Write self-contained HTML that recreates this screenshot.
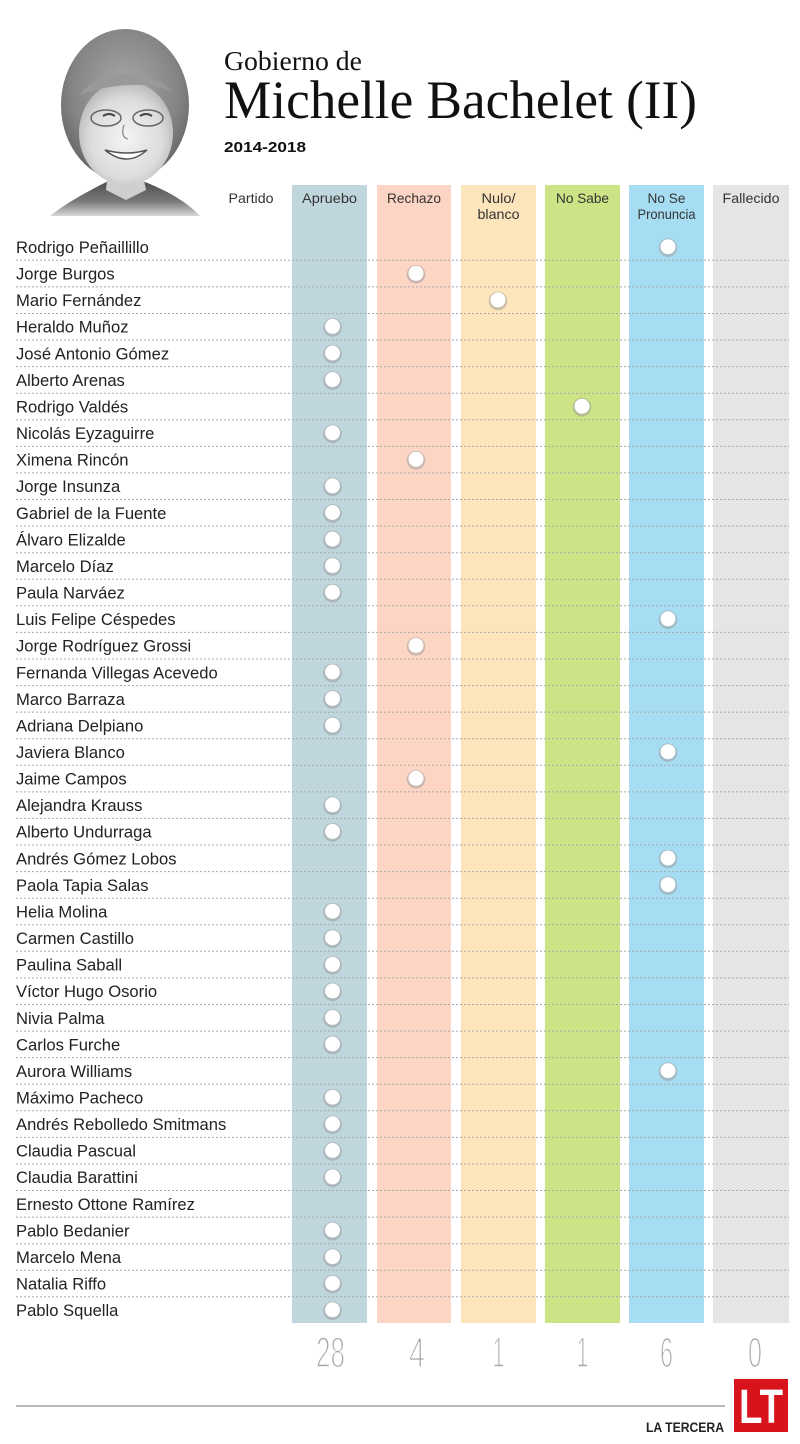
<!DOCTYPE html>
<html><head><meta charset="utf-8"><style>
html,body{margin:0;padding:0;background:#fff;}
svg{display:block;}
</style></head><body>
<svg width="800" height="1444" viewBox="0 0 800 1444" xmlns="http://www.w3.org/2000/svg">
<defs>
<radialGradient id="hair" cx="50%" cy="40%" r="60%">
<stop offset="0" stop-color="#a8a8a8"/><stop offset="0.7" stop-color="#848484"/><stop offset="1" stop-color="#666"/>
</radialGradient>
<radialGradient id="face" cx="50%" cy="55%" r="55%">
<stop offset="0" stop-color="#f4f4f4"/><stop offset="0.7" stop-color="#dcdcdc"/><stop offset="1" stop-color="#b8b8b8"/>
</radialGradient>
<linearGradient id="shoulder" x1="0" y1="0" x2="0" y2="1">
<stop offset="0" stop-color="#4a4a4a"/><stop offset="0.6" stop-color="#7a7a7a"/><stop offset="1" stop-color="#d8d8d8"/>
</linearGradient>
</defs>

<!-- portrait -->
<path d="M50,216 C70,200 95,188 110,180 L145,182 C165,190 185,200 200,216 Z" fill="url(#shoulder)"/>
<path d="M108,170 L142,170 L146,190 L126,200 L106,190 Z" fill="#cfcfcf"/>
<ellipse cx="125" cy="105" rx="64" ry="76" fill="url(#hair)"/>
<ellipse cx="126" cy="133" rx="47" ry="52" fill="url(#face)"/>
<path d="M80,95 C95,70 150,66 172,92 C160,84 120,80 80,95 Z" fill="#999"/>
<ellipse cx="106" cy="118" rx="15" ry="8" fill="none" stroke="#666" stroke-width="1.5"/>
<ellipse cx="148" cy="118" rx="15" ry="8" fill="none" stroke="#666" stroke-width="1.5"/>
<path d="M103,116 q6,-4 12,0" stroke="#444" stroke-width="2" fill="none"/>
<path d="M140,116 q6,-4 12,0" stroke="#444" stroke-width="2" fill="none"/>
<path d="M105,150 q22,18 42,0 q-20,6 -42,0 Z" fill="#fff" stroke="#555" stroke-width="1.5"/>
<path d="M124,125 q-4,12 4,14" stroke="#999" stroke-width="1.5" fill="none"/>

<!-- title -->
<text x="224" y="70" font-family="Liberation Serif, serif" font-size="27" fill="#111" textLength="138" lengthAdjust="spacingAndGlyphs">Gobierno de</text>
<text x="224" y="118" font-family="Liberation Serif, serif" font-size="54" fill="#111" textLength="473" lengthAdjust="spacingAndGlyphs">Michelle Bachelet (II)</text>
<text x="224" y="152" font-family="Liberation Sans, sans-serif" font-size="14.5" font-weight="bold" fill="#111" textLength="82" lengthAdjust="spacingAndGlyphs">2014-2018</text>

<!-- columns -->
<rect x="292" y="185" width="75" height="1138" fill="#c0d6dd"/>
<rect x="377" y="185" width="74" height="1138" fill="#fdd5c5"/>
<rect x="461" y="185" width="75" height="1138" fill="#fde5bb"/>
<rect x="545" y="185" width="75" height="1138" fill="#cce386"/>
<rect x="629" y="185" width="75" height="1138" fill="#a7ddf3"/>
<rect x="713" y="185" width="76" height="1138" fill="#e5e5e5"/>

<!-- headers -->
<g font-family="Liberation Sans, sans-serif" font-size="14" fill="#333" text-anchor="middle">
<text x="251" y="203" textLength="45" lengthAdjust="spacingAndGlyphs">Partido</text>
<text x="329.5" y="203" textLength="55" lengthAdjust="spacingAndGlyphs">Apruebo</text>
<text x="414" y="203" textLength="54" lengthAdjust="spacingAndGlyphs">Rechazo</text>
<text x="498.5" y="203" textLength="34" lengthAdjust="spacingAndGlyphs">Nulo/</text>
<text x="498.5" y="219" textLength="42" lengthAdjust="spacingAndGlyphs">blanco</text>
<text x="582.5" y="203" textLength="53" lengthAdjust="spacingAndGlyphs">No Sabe</text>
<text x="666.5" y="203" textLength="38" lengthAdjust="spacingAndGlyphs">No Se</text>
<text x="666.5" y="219" textLength="58" lengthAdjust="spacingAndGlyphs">Pronuncia</text>
<text x="751" y="203" textLength="57" lengthAdjust="spacingAndGlyphs">Fallecido</text>
</g>

<!-- dotted separators -->
<g stroke="#a8a8a8" stroke-width="1" stroke-dasharray="2,2">
<line x1="16" x2="789" y1="260.3" y2="260.3"/>
<line x1="16" x2="789" y1="286.9" y2="286.9"/>
<line x1="16" x2="789" y1="313.5" y2="313.5"/>
<line x1="16" x2="789" y1="340.0" y2="340.0"/>
<line x1="16" x2="789" y1="366.6" y2="366.6"/>
<line x1="16" x2="789" y1="393.2" y2="393.2"/>
<line x1="16" x2="789" y1="419.8" y2="419.8"/>
<line x1="16" x2="789" y1="446.4" y2="446.4"/>
<line x1="16" x2="789" y1="472.9" y2="472.9"/>
<line x1="16" x2="789" y1="499.5" y2="499.5"/>
<line x1="16" x2="789" y1="526.1" y2="526.1"/>
<line x1="16" x2="789" y1="552.7" y2="552.7"/>
<line x1="16" x2="789" y1="579.2" y2="579.2"/>
<line x1="16" x2="789" y1="605.8" y2="605.8"/>
<line x1="16" x2="789" y1="632.4" y2="632.4"/>
<line x1="16" x2="789" y1="659.0" y2="659.0"/>
<line x1="16" x2="789" y1="685.6" y2="685.6"/>
<line x1="16" x2="789" y1="712.1" y2="712.1"/>
<line x1="16" x2="789" y1="738.7" y2="738.7"/>
<line x1="16" x2="789" y1="765.3" y2="765.3"/>
<line x1="16" x2="789" y1="791.9" y2="791.9"/>
<line x1="16" x2="789" y1="818.4" y2="818.4"/>
<line x1="16" x2="789" y1="845.0" y2="845.0"/>
<line x1="16" x2="789" y1="871.6" y2="871.6"/>
<line x1="16" x2="789" y1="898.2" y2="898.2"/>
<line x1="16" x2="789" y1="924.8" y2="924.8"/>
<line x1="16" x2="789" y1="951.3" y2="951.3"/>
<line x1="16" x2="789" y1="977.9" y2="977.9"/>
<line x1="16" x2="789" y1="1004.5" y2="1004.5"/>
<line x1="16" x2="789" y1="1031.1" y2="1031.1"/>
<line x1="16" x2="789" y1="1057.6" y2="1057.6"/>
<line x1="16" x2="789" y1="1084.2" y2="1084.2"/>
<line x1="16" x2="789" y1="1110.8" y2="1110.8"/>
<line x1="16" x2="789" y1="1137.4" y2="1137.4"/>
<line x1="16" x2="789" y1="1164.0" y2="1164.0"/>
<line x1="16" x2="789" y1="1190.5" y2="1190.5"/>
<line x1="16" x2="789" y1="1217.1" y2="1217.1"/>
<line x1="16" x2="789" y1="1243.7" y2="1243.7"/>
<line x1="16" x2="789" y1="1270.3" y2="1270.3"/>
<line x1="16" x2="789" y1="1296.8" y2="1296.8"/>
</g>

<!-- names -->
<g font-family="Liberation Sans, sans-serif" font-size="16.6" fill="#222">
<text x="16" y="253.0">Rodrigo Peñaillillo</text>
<text x="16" y="279.6">Jorge Burgos</text>
<text x="16" y="306.2">Mario Fernández</text>
<text x="16" y="332.7">Heraldo Muñoz</text>
<text x="16" y="359.3">José Antonio Gómez</text>
<text x="16" y="385.9">Alberto Arenas</text>
<text x="16" y="412.5">Rodrigo Valdés</text>
<text x="16" y="439.1">Nicolás Eyzaguirre</text>
<text x="16" y="465.6">Ximena Rincón</text>
<text x="16" y="492.2">Jorge Insunza</text>
<text x="16" y="518.8">Gabriel de la Fuente</text>
<text x="16" y="545.4">Álvaro Elizalde</text>
<text x="16" y="571.9">Marcelo Díaz</text>
<text x="16" y="598.5">Paula Narváez</text>
<text x="16" y="625.1">Luis Felipe Céspedes</text>
<text x="16" y="651.7">Jorge Rodríguez Grossi</text>
<text x="16" y="678.3">Fernanda Villegas Acevedo</text>
<text x="16" y="704.8">Marco Barraza</text>
<text x="16" y="731.4">Adriana Delpiano</text>
<text x="16" y="758.0">Javiera Blanco</text>
<text x="16" y="784.6">Jaime Campos</text>
<text x="16" y="811.1">Alejandra Krauss</text>
<text x="16" y="837.7">Alberto Undurraga</text>
<text x="16" y="864.3">Andrés Gómez Lobos</text>
<text x="16" y="890.9">Paola Tapia Salas</text>
<text x="16" y="917.5">Helia Molina</text>
<text x="16" y="944.0">Carmen Castillo</text>
<text x="16" y="970.6">Paulina Saball</text>
<text x="16" y="997.2">Víctor Hugo Osorio</text>
<text x="16" y="1023.8">Nivia Palma</text>
<text x="16" y="1050.3">Carlos Furche</text>
<text x="16" y="1076.9">Aurora Williams</text>
<text x="16" y="1103.5">Máximo Pacheco</text>
<text x="16" y="1130.1">Andrés Rebolledo Smitmans</text>
<text x="16" y="1156.7">Claudia Pascual</text>
<text x="16" y="1183.2">Claudia Barattini</text>
<text x="16" y="1209.8">Ernesto Ottone Ramírez</text>
<text x="16" y="1236.4">Pablo Bedanier</text>
<text x="16" y="1263.0">Marcelo Mena</text>
<text x="16" y="1289.5">Natalia Riffo</text>
<text x="16" y="1316.1">Pablo Squella</text>
</g>

<!-- dots -->
<g fill="#9a9a9a" opacity="0.5">
<circle cx="668" cy="247.7" r="9.3"/>
<circle cx="416" cy="274.3" r="9.3"/>
<circle cx="498" cy="300.9" r="9.3"/>
<circle cx="332.5" cy="327.4" r="9.3"/>
<circle cx="332.5" cy="354.0" r="9.3"/>
<circle cx="332.5" cy="380.6" r="9.3"/>
<circle cx="582" cy="407.2" r="9.3"/>
<circle cx="332.5" cy="433.8" r="9.3"/>
<circle cx="416" cy="460.3" r="9.3"/>
<circle cx="332.5" cy="486.9" r="9.3"/>
<circle cx="332.5" cy="513.5" r="9.3"/>
<circle cx="332.5" cy="540.1" r="9.3"/>
<circle cx="332.5" cy="566.6" r="9.3"/>
<circle cx="332.5" cy="593.2" r="9.3"/>
<circle cx="668" cy="619.8" r="9.3"/>
<circle cx="416" cy="646.4" r="9.3"/>
<circle cx="332.5" cy="673.0" r="9.3"/>
<circle cx="332.5" cy="699.5" r="9.3"/>
<circle cx="332.5" cy="726.1" r="9.3"/>
<circle cx="668" cy="752.7" r="9.3"/>
<circle cx="416" cy="779.3" r="9.3"/>
<circle cx="332.5" cy="805.8" r="9.3"/>
<circle cx="332.5" cy="832.4" r="9.3"/>
<circle cx="668" cy="859.0" r="9.3"/>
<circle cx="668" cy="885.6" r="9.3"/>
<circle cx="332.5" cy="912.2" r="9.3"/>
<circle cx="332.5" cy="938.7" r="9.3"/>
<circle cx="332.5" cy="965.3" r="9.3"/>
<circle cx="332.5" cy="991.9" r="9.3"/>
<circle cx="332.5" cy="1018.5" r="9.3"/>
<circle cx="332.5" cy="1045.0" r="9.3"/>
<circle cx="668" cy="1071.6" r="9.3"/>
<circle cx="332.5" cy="1098.2" r="9.3"/>
<circle cx="332.5" cy="1124.8" r="9.3"/>
<circle cx="332.5" cy="1151.4" r="9.3"/>
<circle cx="332.5" cy="1177.9" r="9.3"/>
<circle cx="332.5" cy="1231.1" r="9.3"/>
<circle cx="332.5" cy="1257.7" r="9.3"/>
<circle cx="332.5" cy="1284.2" r="9.3"/>
<circle cx="332.5" cy="1310.8" r="9.3"/>
</g>
<g fill="#fff">
<circle cx="668" cy="246.7" r="7.5"/>
<circle cx="416" cy="273.3" r="7.5"/>
<circle cx="498" cy="299.9" r="7.5"/>
<circle cx="332.5" cy="326.4" r="7.5"/>
<circle cx="332.5" cy="353.0" r="7.5"/>
<circle cx="332.5" cy="379.6" r="7.5"/>
<circle cx="582" cy="406.2" r="7.5"/>
<circle cx="332.5" cy="432.8" r="7.5"/>
<circle cx="416" cy="459.3" r="7.5"/>
<circle cx="332.5" cy="485.9" r="7.5"/>
<circle cx="332.5" cy="512.5" r="7.5"/>
<circle cx="332.5" cy="539.1" r="7.5"/>
<circle cx="332.5" cy="565.6" r="7.5"/>
<circle cx="332.5" cy="592.2" r="7.5"/>
<circle cx="668" cy="618.8" r="7.5"/>
<circle cx="416" cy="645.4" r="7.5"/>
<circle cx="332.5" cy="672.0" r="7.5"/>
<circle cx="332.5" cy="698.5" r="7.5"/>
<circle cx="332.5" cy="725.1" r="7.5"/>
<circle cx="668" cy="751.7" r="7.5"/>
<circle cx="416" cy="778.3" r="7.5"/>
<circle cx="332.5" cy="804.8" r="7.5"/>
<circle cx="332.5" cy="831.4" r="7.5"/>
<circle cx="668" cy="858.0" r="7.5"/>
<circle cx="668" cy="884.6" r="7.5"/>
<circle cx="332.5" cy="911.2" r="7.5"/>
<circle cx="332.5" cy="937.7" r="7.5"/>
<circle cx="332.5" cy="964.3" r="7.5"/>
<circle cx="332.5" cy="990.9" r="7.5"/>
<circle cx="332.5" cy="1017.5" r="7.5"/>
<circle cx="332.5" cy="1044.0" r="7.5"/>
<circle cx="668" cy="1070.6" r="7.5"/>
<circle cx="332.5" cy="1097.2" r="7.5"/>
<circle cx="332.5" cy="1123.8" r="7.5"/>
<circle cx="332.5" cy="1150.4" r="7.5"/>
<circle cx="332.5" cy="1176.9" r="7.5"/>
<circle cx="332.5" cy="1230.1" r="7.5"/>
<circle cx="332.5" cy="1256.7" r="7.5"/>
<circle cx="332.5" cy="1283.2" r="7.5"/>
<circle cx="332.5" cy="1309.8" r="7.5"/>
</g>

<!-- totals -->
<g font-family="Liberation Sans, sans-serif" font-size="43" fill="#a9a9a9" stroke="#fff" stroke-width="1.6" text-anchor="middle">
<text x="330.5" y="1367" textLength="29" lengthAdjust="spacingAndGlyphs">28</text>
<text x="417" y="1367" textLength="16" lengthAdjust="spacingAndGlyphs">4</text>
<text x="498.5" y="1367" textLength="12" lengthAdjust="spacingAndGlyphs">1</text>
<text x="582.5" y="1367" textLength="12" lengthAdjust="spacingAndGlyphs">1</text>
<text x="666.5" y="1367" textLength="13" lengthAdjust="spacingAndGlyphs">6</text>
<text x="755" y="1367" textLength="14" lengthAdjust="spacingAndGlyphs">0</text>
</g>

<!-- footer -->
<line x1="16" x2="725" y1="1406" y2="1406" stroke="#a0a0a0" stroke-width="1.5"/>
<text x="724" y="1432" text-anchor="end" font-family="Liberation Sans, sans-serif" font-size="13.5" font-weight="bold" fill="#222" textLength="78" lengthAdjust="spacingAndGlyphs">LA TERCERA</text>
<rect x="734" y="1379" width="54" height="53" fill="#d7141c"/>
<text x="761" y="1423" text-anchor="middle" font-family="Liberation Sans, sans-serif" font-size="48" font-weight="bold" fill="#fff" textLength="44" lengthAdjust="spacingAndGlyphs">LT</text>
</svg>
</body></html>
